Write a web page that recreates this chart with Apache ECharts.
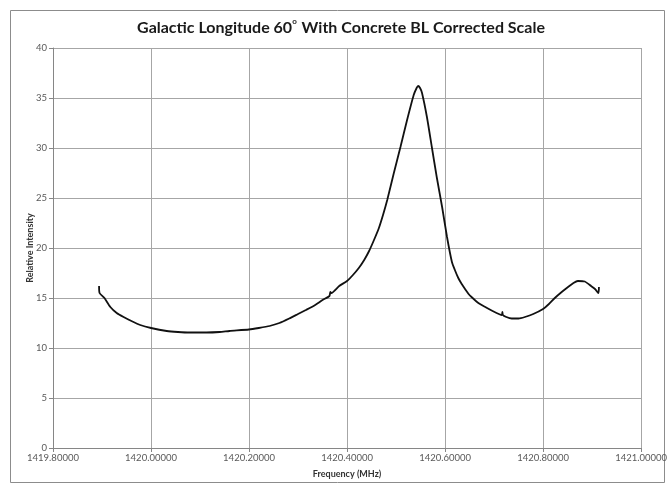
<!DOCTYPE html>
<html>
<head>
<meta charset="utf-8">
<script src="https://cdn.jsdelivr.net/npm/echarts@6/dist/echarts.min.js"></script>
<style>html,body{margin:0;padding:0;background:#fff}#c{width:670px;height:488px}</style>
</head>
<body>
<div id="c"></div>
<script>
const titleText = 'Galactic Longitude 60';
const titleRest = ' With Concrete BL Corrected Scale';
const xAxisName = 'Frequency (MHz)';
const yAxisName = 'Relative Intensity';
const xMin = 1419.8, xMax = 1421.0, xStep = 0.2;
const yMin = 0, yMax = 40, yStep = 5;

const frequency = [
  1419.894, 1419.895, 1419.905, 1419.917, 1419.930, 1419.944, 1419.960, 1419.978, 1420.000, 1420.032,
  1420.055, 1420.079, 1420.113, 1420.140, 1420.160, 1420.200, 1420.220, 1420.242, 1420.262, 1420.282,
  1420.300, 1420.316, 1420.335, 1420.350, 1420.364, 1420.366, 1420.368, 1420.384, 1420.400, 1420.412,
  1420.424, 1420.435, 1420.445, 1420.455, 1420.465, 1420.474, 1420.482, 1420.495, 1420.509, 1420.522,
  1420.536, 1420.542, 1420.545, 1420.549, 1420.553, 1420.563, 1420.573, 1420.583, 1420.594, 1420.604,
  1420.614, 1420.620, 1420.627, 1420.634, 1420.648, 1420.654, 1420.668, 1420.682, 1420.697, 1420.712,
  1420.716, 1420.717, 1420.718, 1420.725, 1420.736, 1420.750, 1420.763, 1420.780, 1420.800, 1420.812,
  1420.824, 1420.838, 1420.851, 1420.862, 1420.871, 1420.885, 1420.898, 1420.906, 1420.913, 1420.914
];
const intensity = [
  16.2, 15.5, 15.0, 14.1, 13.5, 13.1, 12.7, 12.3, 12.0, 11.7,
  11.6, 11.55, 11.55, 11.6, 11.7, 11.85, 12.0, 12.2, 12.5, 12.95,
  13.4, 13.8, 14.3, 14.8, 15.2, 15.6, 15.5, 16.2, 16.7, 17.3,
  18.0, 18.8, 19.7, 20.8, 22.0, 23.4, 24.8, 27.4, 30.1, 32.7,
  35.3, 36.0, 36.2, 36.0, 35.5, 33.1, 30.1, 27.1, 24.1, 21.1,
  18.6, 17.8, 17.0, 16.4, 15.4, 15.1, 14.5, 14.1, 13.7, 13.35,
  13.3, 13.6, 13.3, 13.1, 12.95, 12.95, 13.1, 13.4, 13.9, 14.4,
  15.0, 15.6, 16.1, 16.5, 16.7, 16.65, 16.2, 15.9, 15.5, 16.1
];

const points = frequency.map((f, i) => [f, intensity[i]]);
const chart = echarts.init(document.getElementById('c'), null, {renderer: 'canvas'});
const gridColor = '#a6a6a6';
chart.setOption({
  animation: false,
  backgroundColor: '#fff',
  graphic: [{
    type: 'rect', left: 8, top: 8, shape: {width: 654, height: 472},
    style: {fill: 'none', stroke: '#8c8c8c', lineWidth: 1}, silent: true, z: -1
  }],
  title: {
    text: '{t|' + titleText + '}{s|o}{t|' + titleRest + '}',
    left: 336, textAlign: 'center', top: 12,
    textStyle: {
      rich: {
        t: {fontFamily: 'Lato', fontWeight: 'bold', fontSize: 16, color: '#1a1a1a', lineHeight: 19, verticalAlign: 'bottom'},
        s: {fontFamily: 'Lato', fontWeight: 'bold', fontSize: 8, color: '#1a1a1a', lineHeight: 19, verticalAlign: 'top', padding: [0, 1, 0, 0]}
      }
    }
  },
  grid: {left: 53, right: 28, top: 48, bottom: 40, containLabel: false},
  xAxis: {
    type: 'value', min: xMin, max: xMax, interval: xStep,
    name: xAxisName, nameLocation: 'middle', nameGap: 22,
    nameTextStyle: {fontFamily: 'Lato', fontWeight: 'bold', fontSize: 9, color: '#333'},
    axisLine: {show: true, lineStyle: {color: '#868686'}},
    axisTick: {show: true, inside: false, length: 4, lineStyle: {color: '#868686'}},
    axisLabel: {fontFamily: 'Lato', fontSize: 9.5, color: '#595959', margin: 5,
      formatter: v => v.toFixed(5)},
    splitLine: {show: true, lineStyle: {color: gridColor, width: 1}}
  },
  yAxis: {
    type: 'value', min: yMin, max: yMax, interval: yStep,
    name: yAxisName, nameLocation: 'middle', nameGap: 18, nameRotate: 90,
    nameMoveOverlap: false,
    nameTextStyle: {fontFamily: 'Lato', fontWeight: 'bold', fontSize: 9, color: '#333'},
    axisLine: {show: true, lineStyle: {color: '#868686'}},
    axisTick: {show: true, inside: false, length: 4, lineStyle: {color: '#868686'}},
    axisLabel: {fontFamily: 'Lato', fontSize: 9.5, color: '#595959', margin: 6},
    splitLine: {show: true, lineStyle: {color: gridColor, width: 1}}
  },
  series: [{
    type: 'line', data: points, showSymbol: false, smooth: 0.2,
    lineStyle: {color: '#111', width: 1.8}
  }]
});
</script>
</body>
</html>
